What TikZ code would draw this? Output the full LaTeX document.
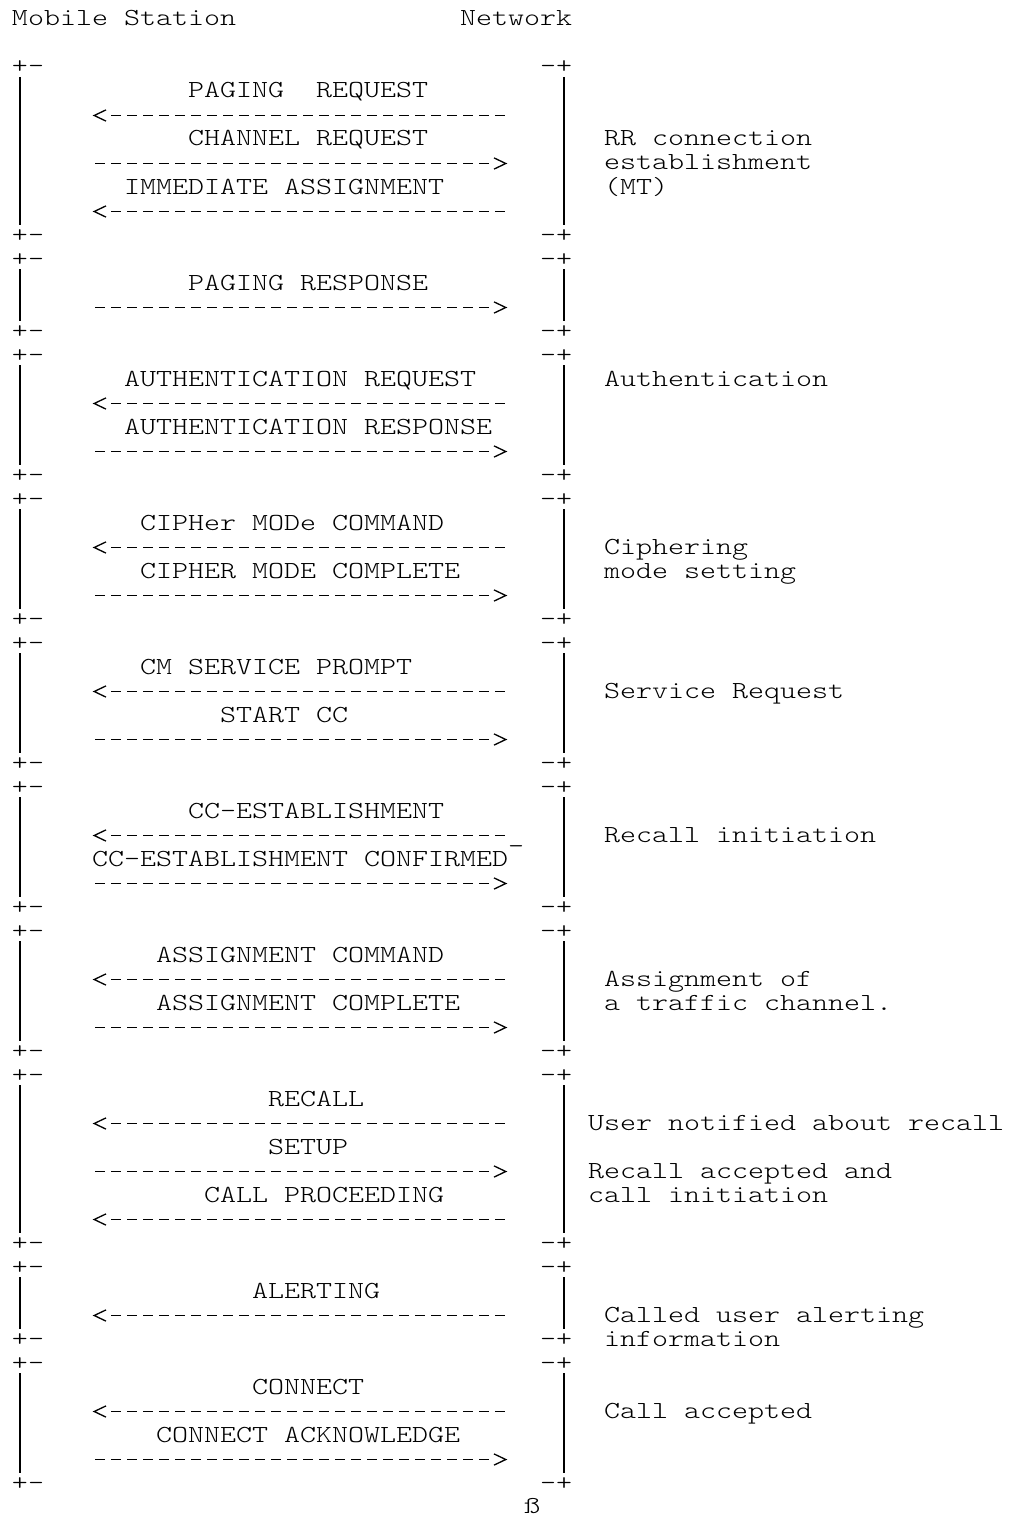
\documentclass[tikz,border=0pt]{standalone}
\usetikzlibrary{calc}
\newcommand{\myT}[1]{\scalebox{1.244}[1]{#1}}
\tikzset{
  txt/.style={inner sep=0pt, outer sep=0pt, anchor=base west,
    font=\fontsize{24.5}{24}\ttfamily\fontseries{l}\selectfont},
  msg/.style={line width=1.3pt, dash pattern=on 9.3pt off 6.7pt},
  chev/.style={line width=1.3pt, line join=miter, line cap=butt},
  side/.style={line width=1.3pt},
}
% label: name, column, line, text
\newcommand{\mylbl}[4]{\node[txt] (#1) at ({12+16*#2},{26+24*#3}) {\myT{#4}};}
% arrow towards the mobile station on line #1
\newcommand{\myleft}[1]{%
  \coordinate (ms#1) at ({12+16*6+3.35},{19.5+24*#1});
  \coordinate (nw#1) at ({12+16*30+12.65},{19.5+24*#1});
  \coordinate (tip#1) at ({12+16*5+2.2},{19.5+24*#1});
  \draw[msg] (nw#1) -- (ms#1);
  \draw[chev] ($(tip#1)+(11.8,-5.6)$) -- (tip#1) -- ($(tip#1)+(11.8,5.6)$);
}
% arrow towards the network on line #1
\newcommand{\myright}[1]{%
  \coordinate (ms#1) at ({12+16*5+3.35},{19.5+24*#1});
  \coordinate (nw#1) at ({12+16*29+12.65},{19.5+24*#1});
  \coordinate (tip#1) at ({12+16*31-2.2},{19.5+24*#1});
  \draw[msg] (ms#1) -- (nw#1);
  \draw[chev] ($(tip#1)+(-11.8,-5.6)$) -- (tip#1) -- ($(tip#1)+(-11.8,5.6)$);
}
% bracket: name, first line, last line
\newcommand{\mybox}[3]{%
  \node[txt] (#1tl) at (12,{26+24*#2}) {\myT{+-}};
  \node[txt] (#1tr) at ({12+16*33},{26+24*#2}) {\myT{-+}};
  \node[txt] (#1bl) at (12,{26+24*#3}) {\myT{+-}};
  \node[txt] (#1br) at ({12+16*33},{26+24*#3}) {\myT{-+}};
  \coordinate (#1la) at (20,{29+24*#2});
  \coordinate (#1lb) at (20,{9+24*#3});
  \coordinate (#1ra) at ({12+16*34.5},{29+24*#2});
  \coordinate (#1rb) at ({12+16*34.5},{9+24*#3});
  \draw[side] (#1la) -- (#1lb);
  \draw[side] (#1ra) -- (#1rb);
}
\begin{document}
\begin{tikzpicture}[x=1pt,y=-1pt]
\useasboundingbox (0,0) rectangle (1011,1517);
% header
\mylbl{hms}{0}{0}{Mobile Station}
\mylbl{hnw}{28}{0}{Network}
% brackets
\mybox{bA}{2}{9}
\mybox{bB}{10}{13}
\mybox{bC}{14}{19}
\mybox{bD}{20}{25}
\mybox{bE}{26}{31}
\mybox{bF}{32}{37}
\mybox{bG}{38}{43}
\mybox{bH}{44}{51}
\mybox{bI}{52}{55}
\mybox{bJ}{56}{61}
% messages
\mylbl{m3}{11}{3}{PAGING~~REQUEST}
\myleft{4}
\mylbl{m5}{11}{5}{CHANNEL REQUEST}
\myright{6}
\mylbl{m7}{7}{7}{IMMEDIATE ASSIGNMENT}
\myleft{8}
\mylbl{m11}{11}{11}{PAGING RESPONSE}
\myright{12}
\mylbl{m15}{7}{15}{AUTHENTICATION REQUEST}
\myleft{16}
\mylbl{m17}{7}{17}{AUTHENTICATION RESPONSE}
\myright{18}
\mylbl{m21}{8}{21}{CIPHer MODe COMMAND}
\myleft{22}
\mylbl{m23}{8}{23}{CIPHER MODE COMPLETE}
\myright{24}
\mylbl{m27}{8}{27}{CM SERVICE PROMPT}
\myleft{28}
\mylbl{m29}{13}{29}{START CC}
\myright{30}
\mylbl{m33}{11}{33}{CC-ESTABLISHMENT}
\myleft{34}
\mylbl{u34}{31}{34}{\_}
\mylbl{m35}{5}{35}{CC-ESTABLISHMENT CONFIRMED}
\myright{36}
\mylbl{m39}{9}{39}{ASSIGNMENT COMMAND}
\myleft{40}
\mylbl{m41}{9}{41}{ASSIGNMENT COMPLETE}
\myright{42}
\mylbl{m45}{16}{45}{RECALL}
\myleft{46}
\mylbl{m47}{16}{47}{SETUP}
\myright{48}
\mylbl{m49}{12}{49}{CALL PROCEEDING}
\myleft{50}
\mylbl{m53}{15}{53}{ALERTING}
\myleft{54}
\mylbl{m57}{15}{57}{CONNECT}
\myleft{58}
\mylbl{m59}{9}{59}{CONNECT ACKNOWLEDGE}
\myright{60}
% notes
\mylbl{r5}{37}{5}{RR connection}
\mylbl{r6}{37}{6}{establishment}
\mylbl{r7}{37}{7}{(MT)}
\mylbl{r15}{37}{15}{Authentication}
\mylbl{r22}{37}{22}{Ciphering}
\mylbl{r23}{37}{23}{mode setting}
\mylbl{r28}{37}{28}{Service Request}
\mylbl{r34}{37}{34}{Recall initiation}
\mylbl{r40}{37}{40}{Assignment of}
\mylbl{r41}{37}{41}{a traffic channel.}
\mylbl{r46}{36}{46}{User notified about recall}
\mylbl{r48}{36}{48}{Recall accepted and}
\mylbl{r49}{36}{49}{call initiation}
\mylbl{r54}{37}{54}{Called user alerting}
\mylbl{r55}{37}{55}{information}
\mylbl{r58}{37}{58}{Call accepted}
\node[txt] (ss) at ({12+16*32},1513) {\myT{ß}};
\end{tikzpicture}
\end{document}
